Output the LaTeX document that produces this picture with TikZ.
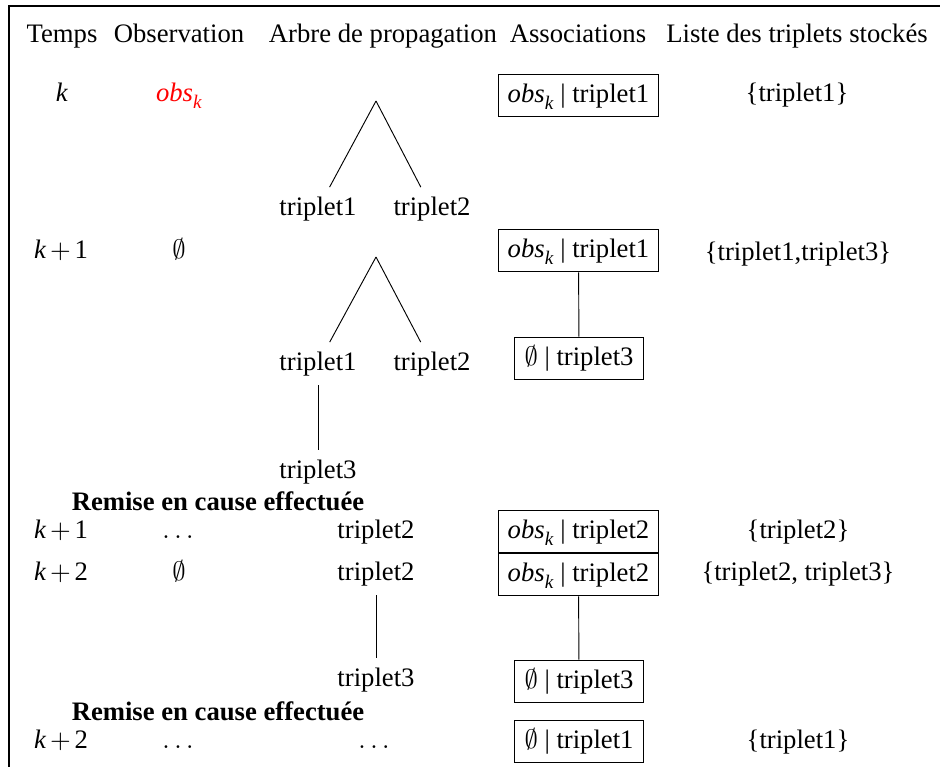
\documentclass[tikz,border=0pt]{standalone}
\usepackage{fontspec}
\setmainfont{Liberation Serif}
\newcommand{\obsk}{\textit{obs}\raisebox{-0.28em}{\fontsize{7.2}{8}\selectfont\textit{k}}}
\newcommand{\vide}{$\emptyset$}
\newcommand{\kp}[1]{\textit{k}$\mskip2.5mu+\mskip2.5mu$#1}
\begin{document}
\begin{tikzpicture}[x=0.375pt,y=-0.375pt,
  lbl/.style={anchor=base,inner sep=3.33pt},
  assoc/.style={anchor=base,draw,inner sep=3.6pt,text height=0.68em,text depth=0.2em},
  bold/.style={anchor=base,font=\bfseries,inner sep=0pt},
  frm/.style={line width=0.5pt},
  edge/.style={line width=0.35pt}]
\useasboundingbox (0,0) rectangle (940,767);
\draw[frm] (940,6) -- (9,6) -- (9,767);
% header
\node[lbl] (hT) at (62,42.5) {Temps};
\node[lbl] (hO) at (179,42.5) {Observation};
\node[lbl] (hA) at (383,42.5) {Arbre de propagation};
\node[lbl] (hS) at (578,42.5) {Associations};
\node[lbl] (hL) at (797,42.5) {Liste des triplets stockés};
% row k
\node[lbl] (t0) at (62,101) {\textit{k}};
\node[lbl,text=red] (o0) at (179,101) {\obsk};
\coordinate (ap1) at (376,101);
\node[lbl] (ta1) at (318,215) {triplet1};
\node[lbl] (ta2) at (432,215) {triplet2};
\draw[edge] (ap1) -- (ta1);
\draw[edge] (ap1) -- (ta2);
\node[assoc] (b1) at (578.5,102) {\obsk\ | triplet1};
\node[lbl] (l1) at (797,101) {\{triplet1\}};
% row k+1
\node[lbl] (t1) at (61,258) {\kp{1}};
\node[lbl] (o1) at (179,258) {\vide};
\coordinate (ap2) at (376,257);
\node[lbl] (tb1) at (318,370) {triplet1};
\node[lbl] (tb2) at (432,370) {triplet2};
\node[lbl] (tb3) at (318,478) {triplet3};
\draw[edge] (ap2) -- (tb1);
\draw[edge] (ap2) -- (tb2);
\draw[edge] (tb1) -- (tb3);
\node[assoc] (b2) at (578.5,257) {\obsk\ | triplet1};
\node[assoc] (b3) at (579,365) {\vide\ | triplet3};
\draw[edge] (b2) -- (b3);
\node[lbl] (l2) at (798,260) {\{triplet1,triplet3\}};
% remise 1
\node[bold] (r1) at (218,510) {Remise en cause effectuée};
% row k+1 bis
\node[lbl] (t2) at (61,538) {\kp{1}};
\node[lbl] (o2) at (178,538) {$\dots$};
\node[lbl] (tc1) at (376,538) {triplet2};
\node[assoc] (b4) at (578.5,538) {\obsk\ | triplet2};
\node[lbl] (l3) at (798,538) {\{triplet2\}};
% row k+2
\node[lbl] (t3) at (61,580) {\kp{2}};
\node[lbl] (o3) at (179,580) {\vide};
\node[lbl] (td1) at (376,580) {triplet2};
\node[lbl] (td2) at (376,686) {triplet3};
\draw[edge] (td1) -- (td2);
\node[assoc] (b5) at (578.5,581) {\obsk\ | triplet2};
\node[assoc] (b6) at (579,688) {\vide\ | triplet3};
\draw[edge] (b5) -- (b6);
\node[lbl] (l4) at (798,580) {\{triplet2, triplet3\}};
% remise 2
\node[bold] (r2) at (218,720) {Remise en cause effectuée};
% last row
\node[lbl] (t4) at (61,748) {\kp{2}};
\node[lbl] (o4) at (178,748) {$\dots$};
\node[lbl] (te1) at (374,748) {$\dots$};
\node[assoc] (b7) at (579,748) {\vide\ | triplet1};
\node[lbl] (l5) at (798,748) {\{triplet1\}};
\end{tikzpicture}
\end{document}
